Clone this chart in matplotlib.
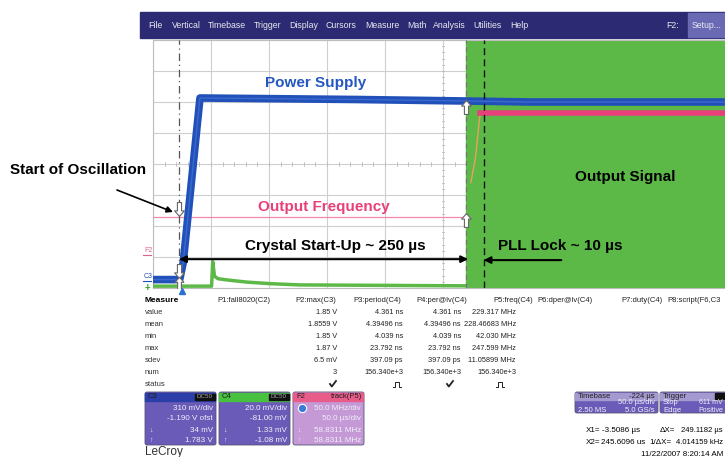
import matplotlib
matplotlib.use("Agg")
import matplotlib.pyplot as plt
from matplotlib.patches import Rectangle, FancyBboxPatch

plt.rcParams['font.family'] = ['Liberation Sans', 'DejaVu Sans']

# ---- scope settings ----
t_left = -26.0          # us at left edge of grid
us_per_div = 50.0
c3_vdiv, c3_ofst = 0.31, -1.19     # power supply channel (V/div, offset)
x1_cursor, x2_cursor = -3.5086, 245.6096
pll_lock_end = 259.0

# ---- traces ----
# power supply (C3), volts
ps_t = [-26, -3.0, 0.0, 14.5, 60, 150, 243, 300, 467]
ps_v = [0.034, 0.034, 0.20, 1.85, 1.845, 1.835, 1.82, 1.81, 1.81]
# oscillator output (C4), divisions
c4_t = [-26, 24.5, 25.5, 27, 30, 40, 55, 75, 100, 243]
c4_d = [0.06, 0.06, 0.85, 0.38, 0.30, 0.25, 0.19, 0.14, 0.10, 0.07]
# output frequency (F2), divisions
f2_pre_t = [-26, 243]
f2_pre_d = [2.3, 2.3]
f2_lock_t = [248, 252, 256]
f2_lock_d = [3.4, 4.2, 5.65]
f2_post_t = [256, 467]
f2_post_d = [5.65, 5.65]

# ---- measurement table ----
meas_rows = ['value', 'mean', 'min', 'max', 'sdev', 'num', 'status']
meas_headers = ['P1:fall8020(C2)', 'P2:max(C3)', 'P3:period(C4)', 'P4:per@lv(C4)',
                'P5:freq(C4)', 'P6:dper@lv(C4)', 'P7:duty(C4)', 'P8:script(F6,C3']
p2_vals = ['1.85 V', '1.8559 V', '1.85 V', '1.87 V', '6.5 mV', '3', 'check']
p3_vals = ['4.361 ns', '4.39496 ns', '4.039 ns', '23.792 ns', '397.09 ps', '156.340e+3', 'pulse']
p4_vals = ['4.361 ns', '4.39496 ns', '4.039 ns', '23.792 ns', '397.09 ps', '156.340e+3', 'check']
p5_vals = ['229.317 MHz', '228.46683 MHz', '42.030 MHz', '247.599 MHz', '11.05899 MHz',
           '156.340e+3', 'pulse']

menu_items = ['File', 'Vertical', 'Timebase', 'Trigger', 'Display', 'Cursors',
              'Measure', 'Math', 'Analysis', 'Utilities', 'Help']

c3_lines = ['310 mV/div', '-1.190 V ofst', '34 mV', '1.783 V']
c4_lines = ['20.0 mV/div', '-81.00 mV', '1.33 mV', '-1.08 mV']
f2_lines = ['50.0 MHz/div', '50.0 \u00b5s/div', '58.8311 MHz', '58.8311 MHz']

W, H = 725, 457
BLUE = '#2150b8'
GREEN = '#5cb947'
PINK = '#e8407a'
NAVY = '#2b2a72'
BOXC = '#6b5bb8'

fig = plt.figure(figsize=(W / 100, H / 100), dpi=100)

# background / overlay in pixel coordinates
bg = fig.add_axes([0, 0, 1, 1], zorder=0)
bg.set_xlim(0, W)
bg.set_ylim(H, 0)
bg.axis('off')

top = fig.add_axes([0, 0, 1, 1], zorder=3)
top.set_xlim(0, W)
top.set_ylim(H, 0)
top.axis('off')
top.patch.set_alpha(0)

# ---- scope grid axes ----
gx0, gy0, gy1 = 153, 40, 288
px_per_div = 58.0
t_right = t_left + (W - gx0) / px_per_div * us_per_div
ax = fig.add_axes([gx0 / W, (H - gy1) / H, (W - gx0) / W, (gy1 - gy0) / H], zorder=1)
ax.set_xticks([t_left + us_per_div * k for k in range(11)])
ax.set_yticks(range(9))
ax.set_xlim(t_left, t_right)
ax.set_ylim(0, 8)
ax.grid(True, color='#cfcfcf', lw=0.8)
ax.tick_params(length=0, labelbottom=False, labelleft=False)
for s in ax.spines.values():
    s.set_color('#bdbdbd')
    s.set_linewidth(0.8)
ax.spines['right'].set_visible(False)
# small ticks on centre lines
mid_t = t_left + 5 * us_per_div
for k in range(60):
    tt = t_left + k * us_per_div / 5
    ax.plot([tt, tt], [3.93, 4.07], color='#bdbdbd', lw=0.6)
for k in range(41):
    ax.plot([mid_t - 1.2, mid_t + 1.2], [k / 5, k / 5], color='#bdbdbd', lw=0.6)

# locked region: output oscillation fills the screen
ax.axvspan(x2_cursor - 1.5, t_right, color=GREEN, zorder=2)

# traces
ps_d = [4 + (v + c3_ofst) / c3_vdiv for v in ps_v]
ax.plot(c4_t, c4_d, color=GREEN, lw=2.5, zorder=3)
ax.plot(f2_pre_t, f2_pre_d, color='#f08aa8', lw=0.9, zorder=3)
ax.plot(f2_lock_t, f2_lock_d, color='#e8a060', lw=1.0, zorder=3)
ax.plot(f2_post_t, f2_post_d, color=PINK, lw=4.0, zorder=3)
ax.plot(ps_t, ps_d, color=BLUE, lw=5.5, zorder=4, solid_capstyle='butt')
ax.plot(ps_t, ps_d, color='#3a6ad0', lw=1.0, zorder=4)

# cursors
ax.axvline(x1_cursor, color='#555555', lw=0.9, ls=(0, (6, 3, 1, 3)), zorder=5)
ax.axvline(x2_cursor - 1.5, color='#777777', lw=0.9, ls=(0, (4, 3)), zorder=5)
ax.axvline(pll_lock_end, color='#111111', lw=1.0, ls=(0, (5, 3)), zorder=5)

up_arrow = [(0, 1), (0.7, 0.2), (0.3, 0.2), (0.3, -1), (-0.3, -1), (-0.3, 0.2), (-0.7, 0.2), (0, 1)]
dn_arrow = [(x, -y) for x, y in up_arrow]
ax.plot([x2_cursor - 2, x2_cursor - 2], [5.85, 2.2], ls='none', marker=up_arrow,
        ms=10, mfc='white', mec='#666666', mew=0.8, zorder=6)
ax.plot([x1_cursor, x1_cursor], [2.55, 0.55], ls='none', marker=dn_arrow,
        ms=10, mfc='white', mec='#666666', mew=0.8, zorder=6)
ax.plot([x1_cursor], [0.15], ls='none', marker=up_arrow,
        ms=9, mfc='white', mec='#666666', mew=0.8, zorder=6)

# annotations
ax.text(114, 6.6, 'Power Supply', color='#2457c0', fontsize=11, fontweight='bold',
        ha='center', va='center', zorder=7)
ax.text(121, 2.6, 'Output Frequency', color=PINK, fontsize=11, fontweight='bold',
        ha='center', va='center', zorder=7)
ax.text(131, 1.35, 'Crystal Start-Up ~ 250 \u00b5s', color='black', fontsize=11,
        fontweight='bold', ha='center', va='center', zorder=7)
ax.annotate('', xy=(x1_cursor, 0.93), xytext=(x2_cursor, 0.93),
            arrowprops=dict(arrowstyle='<|-|>', color='black', lw=1.5,
                            mutation_scale=10, shrinkA=0, shrinkB=0), zorder=7)
ax.text(325, 1.35, 'PLL Lock ~ 10 \u00b5s', color='black', fontsize=11,
        fontweight='bold', ha='center', va='center', zorder=7)
ax.annotate('', xy=(pll_lock_end, 0.9), xytext=(326, 0.9),
            arrowprops=dict(arrowstyle='-|>', color='black', lw=1.5,
                            mutation_scale=10, shrinkA=0, shrinkB=0), zorder=7)
ax.text(381, 3.58, 'Output Signal', color='black', fontsize=11,
        fontweight='bold', ha='center', va='center', zorder=7)

# ---- outside the grid ----
top.text(10, 170, 'Start of Oscillation', fontsize=11, fontweight='bold',
         ha='left', va='center')
top.annotate('', xy=(173, 212), xytext=(117, 190),
             arrowprops=dict(arrowstyle='-|>', color='black', lw=1.2,
                             mutation_scale=9, shrinkA=0, shrinkB=0))
top.text(144, 250, 'F2', color='#e06090', fontsize=5, ha='left', va='center')
top.plot([143, 151], [255, 255], color='#e06090', lw=0.8)
top.text(144, 276, 'C3', color=BLUE, fontsize=5, ha='left', va='center')
top.plot([143, 151], [281, 281], color=BLUE, lw=0.8)
top.text(147, 288, '+', color='#3aa030', fontsize=7, fontweight='bold',
         ha='center', va='center')
top.plot([182], [291], marker='^', color='#2a70d0', ms=5)

# menu bar
bg.add_patch(Rectangle((140, 12), W - 140, 26, color=NAVY))
bg.add_patch(Rectangle((688, 13), W - 688, 24, color='#6a6ab4'))
mx = [148, 172, 208, 254, 289, 326, 365, 407, 433, 473, 510]
for x, item in zip(mx, menu_items):
    bg.text(x, 25, item, color='#e8e8f0', fontsize=6.3, ha='left', va='center')
bg.text(666, 25, 'F2:', color='#e8e8f0', fontsize=6.3, ha='left', va='center')
bg.text(692, 25, 'Setup...', color='#e8e8f0', fontsize=6.3, ha='left', va='center')

# measurement table
row_y = [313, 325, 337, 349, 360, 372, 384]
bg.text(145, 301, 'Measure', fontsize=6, fontweight='bold', ha='left', va='center')
hx = [217, 295, 353, 416, 493, 537, 621, 667]
for x, h in zip(hx, meas_headers):
    bg.text(x, 301, h, fontsize=5.5, ha='left', va='center', color='#222222')
for y, r in zip(row_y, meas_rows):
    bg.text(145, y, r, fontsize=5.5, ha='left', va='center', color='#333333')


def status_mark(x, y, kind):
    if kind == 'check':
        bg.plot([x - 3, x - 1.2, x + 3], [y, y + 2.5, y - 3], color='#222222', lw=1.3)
    else:
        bg.plot([x - 4, x - 2, x - 2, x + 2, x + 2, x + 4],
                [y + 2.5, y + 2.5, y - 2.5, y - 2.5, y + 2.5, y + 2.5],
                color='#222222', lw=0.7)


for col_x, mark_x, vals in [(337, 333, p2_vals), (403, 397, p3_vals),
                            (461, 450, p4_vals), (516, 500, p5_vals)]:
    for y, v in zip(row_y, vals):
        if v in ('check', 'pulse'):
            status_mark(mark_x, y, v)
        else:
            bg.text(col_x, y, v, fontsize=5.3, ha='right', va='center', color='#222222')


def chan_box(x0, label, head_col, body_col, lines, badge=None, tag=None):
    bg.add_patch(FancyBboxPatch((x0, 392), 71, 53, boxstyle='round,pad=0,rounding_size=2',
                                fc=body_col, ec='#555577', lw=0.6))
    bg.add_patch(Rectangle((x0 + 0.5, 392.5), 70, 8, color=head_col))
    bg.text(x0 + 3, 396.5, label, fontsize=5.5, color='#202020', va='center')
    if badge:
        bg.add_patch(Rectangle((x0 + 50, 393.5), 20, 6, color='#111111'))
        bg.text(x0 + 60, 396.5, badge, fontsize=4.5, color='#aaaaaa',
                ha='center', va='center')
    if tag:
        bg.text(x0 + 69, 396.5, tag, fontsize=5.5, color='#202020',
                ha='right', va='center')
    ys = [408, 418, 430, 440]
    for y, s in zip(ys, lines):
        bg.text(x0 + 68, y, s, fontsize=5.8, color='#f0f0f8', ha='right', va='center')
    bg.text(x0 + 4, 430, '\u2193', fontsize=5, color='#f0f0f8', va='center')
    bg.text(x0 + 4, 440, '\u2191', fontsize=5, color='#f0f0f8', va='center')


chan_box(145, 'C3', '#2c3ea8', BOXC, c3_lines, badge='DC50')
chan_box(219, 'C4', '#48c040', BOXC, c4_lines, badge='DC50')
chan_box(293, 'F2', '#e85c8a', '#c499d6', f2_lines, tag='track(P5)')
bg.plot([302], [408], marker='o', ms=6, color='#3a7ad8', mec='white', mew=0.8)
bg.text(145, 452, 'LeCroy', fontsize=8.5, color='#333333', va='center')

# timebase / trigger boxes
bg.add_patch(FancyBboxPatch((575, 392), 83, 21, boxstyle='round,pad=0,rounding_size=2',
                            fc=BOXC, ec='#555577', lw=0.6))
bg.add_patch(Rectangle((575.5, 392.5), 82, 7, color='#a49ad0'))
bg.text(578, 396, 'Timebase', fontsize=5.5, color='#202020', va='center')
bg.text(655, 396, '-224 \u00b5s', fontsize=5.5, color='#202020', ha='right', va='center')
bg.text(655, 403, '50.0 \u00b5s/div', fontsize=5.5, color='#f0f0f8', ha='right', va='center')
bg.text(578, 410, '2.50 MS', fontsize=5.5, color='#f0f0f8', va='center')
bg.text(655, 410, '5.0 GS/s', fontsize=5.5, color='#f0f0f8', ha='right', va='center')
bg.add_patch(FancyBboxPatch((660, 392), 70, 21, boxstyle='round,pad=0,rounding_size=2',
                            fc=BOXC, ec='#555577', lw=0.6))
bg.add_patch(Rectangle((660.5, 392.5), 70, 7, color='#a49ad0'))
bg.text(663, 396, 'Trigger', fontsize=5.5, color='#202020', va='center')
bg.add_patch(Rectangle((715, 393), 12, 6, color='#111111'))
bg.text(663, 403, 'Stop', fontsize=5.5, color='#f0f0f8', va='center')
bg.text(723, 403, '611 mV', fontsize=5, color='#f0f0f8', ha='right', va='center')
bg.text(663, 410, 'Edge', fontsize=5.5, color='#f0f0f8', va='center')
bg.text(723, 410, 'Positive', fontsize=5, color='#f0f0f8', ha='right', va='center')

bg.text(586, 431, 'X1=', fontsize=5.8, va='center')
bg.text(640, 431, '-3.5086 \u00b5s', fontsize=5.8, ha='right', va='center')
bg.text(660, 431, '\u0394X=', fontsize=5.8, va='center')
bg.text(723, 431, '249.1182 \u00b5s', fontsize=5.5, ha='right', va='center')
bg.text(586, 443, 'X2=', fontsize=5.8, va='center')
bg.text(645, 443, '245.6096 us', fontsize=5.8, ha='right', va='center')
bg.text(649, 443, '1/\u0394X=', fontsize=5.8, va='center')
bg.text(723, 443, '4.014159 kHz', fontsize=5.5, ha='right', va='center')
bg.text(723, 454, '11/22/2007 8:20:14 AM', fontsize=5.8, ha='right', va='center')

fig.savefig('out.png', dpi=100)
